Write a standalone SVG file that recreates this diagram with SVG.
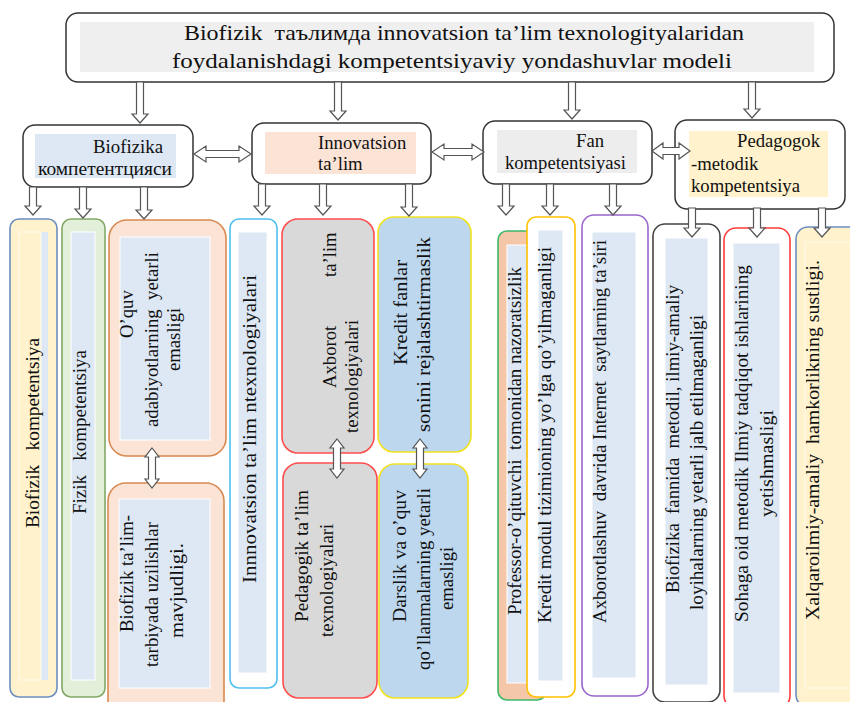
<svg xmlns="http://www.w3.org/2000/svg" width="850" height="702" viewBox="0 0 850 702">
<defs>
<style>
.t{font-family:"Liberation Serif","Times New Roman",serif;font-size:18.7px;fill:#111;white-space:pre}
.tt{font-size:21px}
.box{fill:#fff;stroke:#333;stroke-width:1.5}
.arr{fill:#fff;stroke:#555;stroke-width:1.2;stroke-linejoin:miter}
.inb{fill:#dde8f4;stroke:#fff;stroke-width:1}
.col{stroke-width:1.6}
</style>
</defs>
<rect x="0" y="0" width="850" height="702" fill="#fff"/>

<g id="title">
<rect class="box" x="66" y="13" width="768" height="69" rx="12"/>
<rect x="80" y="22" width="734" height="50" fill="#efefef"/>
<text class="t tt" xml:space="preserve" x="184" y="40" textLength="560" lengthAdjust="spacingAndGlyphs">Biofizik  таълимда innovatsion ta’lim texnologityalaridan</text>
<text class="t tt" xml:space="preserve" x="172" y="68" textLength="560" lengthAdjust="spacingAndGlyphs">foydalanishdagi kompetentsiyaviy yondashuvlar modeli</text>
</g>

<g id="biofizika-kompetentsiyasi">
<rect class="box" x="23" y="125" width="170" height="62" rx="12"/>
<rect x="35" y="134" width="141" height="44" fill="#dde8f4"/>
<text class="t" x="93" y="153" textLength="70" lengthAdjust="spacingAndGlyphs">Biofizika</text>
<text class="t" x="38" y="175" textLength="134" lengthAdjust="spacingAndGlyphs">компетентцияси</text>
</g>

<g id="innovatsion-talim">
<rect class="box" x="252" y="123" width="179" height="61" rx="12"/>
<rect x="265" y="132" width="151" height="42" fill="#fbe3d6"/>
<text class="t" x="318" y="149">Innovatsion</text>
<text class="t" x="318" y="170">ta’lim</text>
</g>

<g id="fan-kompetentsiyasi">
<rect class="box" x="483" y="121" width="169" height="63" rx="12"/>
<rect x="497" y="130" width="140" height="43" fill="#ededed"/>
<text class="t" x="576" y="147">Fan</text>
<text class="t" x="505" y="169" textLength="121" lengthAdjust="spacingAndGlyphs">kompetentsiyasi</text>
</g>

<g id="pedagogik-metodik">
<rect class="box" x="675" y="120" width="170" height="89" rx="12"/>
<rect x="689" y="131" width="139" height="66" fill="#fff2cc"/>
<text class="t" x="737" y="147">Pedagogok</text>
<text class="t" x="691" y="170">-metodik</text>
<text class="t" x="691" y="192">kompetentsiya</text>
</g>

<g id="c1">
<rect class="col" x="10" y="219" width="47" height="478" rx="9" fill="#fff2cc" stroke="#6c8ebf"/>
<rect x="19" y="232" width="29" height="448" fill="#dde8f4"/>
<rect x="19" y="232" width="22" height="448" fill="#fff2cc" stroke="#fffaf0"/>
<text class="t" xml:space="preserve" transform="translate(39,528) rotate(-90)" textLength="190" lengthAdjust="spacingAndGlyphs">Biofizik   kompetentsiya</text>
</g>

<g id="c2">
<rect class="col" x="62" y="219" width="43" height="478" rx="9" fill="#e2efd9" stroke="#82a866"/>
<rect class="inb" x="71" y="232" width="24" height="448"/>
<text class="t" xml:space="preserve" transform="translate(86,514) rotate(-90)" textLength="164" lengthAdjust="spacingAndGlyphs">Fizik   kompetentsiya</text>
</g>

<g id="c3a">
<rect class="col" x="109" y="220" width="117" height="236" rx="18" fill="#fbe3d6" stroke="#d9894f"/>
<rect class="inb" x="120" y="237" width="90" height="203"/>
<text class="t" transform="translate(133,338) rotate(-90)">O’quv</text>
<text class="t" xml:space="preserve" transform="translate(158,427) rotate(-90)" textLength="175" lengthAdjust="spacingAndGlyphs">adabiyotlarning  yetarli</text>
<text class="t" transform="translate(180,371) rotate(-90)">emasligi</text>
</g>

<g id="c3b">
<rect class="col" x="108" y="483" width="116" height="235" rx="18" fill="#fbe3d6" stroke="#d9894f"/>
<rect class="inb" x="119" y="499" width="91" height="189"/>
<text class="t" transform="translate(133,632) rotate(-90)" textLength="117" lengthAdjust="spacingAndGlyphs">Biofizik ta’lim-</text>
<text class="t" transform="translate(158,667) rotate(-90)" textLength="145" lengthAdjust="spacingAndGlyphs">tarbiyada uzilishlar</text>
<text class="t" transform="translate(183,638) rotate(-90)" textLength="95" lengthAdjust="spacingAndGlyphs">mavjudligi.</text>
</g>

<g id="c4">
<rect class="col" x="230" y="219" width="47" height="469" rx="9" fill="#fff" stroke="#4fbfef"/>
<rect class="inb" x="238" y="232" width="29" height="441"/>
<text class="t" transform="translate(256,583) rotate(-90)" textLength="308" lengthAdjust="spacingAndGlyphs">Innnovatsion ta’lim ntexnologiyalari</text>
</g>

<g id="c5a">
<rect class="col" x="282" y="219" width="92" height="234" rx="16" fill="#d9d9d9" stroke="#ff4d4d"/>
<text class="t" transform="translate(336,388) rotate(-90)"><tspan x="0">Axborot</tspan><tspan x="111">ta’lim</tspan></text>
<text class="t" transform="translate(358,433) rotate(-90)">texnologiyalari</text>
</g>

<g id="c5b">
<rect class="col" x="283" y="463" width="94" height="235" rx="16" fill="#d9d9d9" stroke="#ff4d4d"/>
<text class="t" transform="translate(308,622) rotate(-90)" textLength="132" lengthAdjust="spacingAndGlyphs">Pedagogik ta’lim</text>
<text class="t" transform="translate(333,637) rotate(-90)">texnologiyalari</text>
</g>

<g id="c6a">
<rect class="col" x="378" y="217" width="93" height="235" rx="16" fill="#bdd7ee" stroke="#f2e21e"/>
<text class="t" transform="translate(407,365) rotate(-90)" textLength="105" lengthAdjust="spacingAndGlyphs">Kredit fanlar</text>
<text class="t" transform="translate(430,432) rotate(-90)" textLength="195" lengthAdjust="spacingAndGlyphs">sonini rejalashtirmaslik</text>
</g>

<g id="c6b">
<rect class="col" x="379" y="464" width="89" height="234" rx="16" fill="#bdd7ee" stroke="#f2e21e"/>
<text class="t" transform="translate(406,622) rotate(-90)" textLength="132" lengthAdjust="spacingAndGlyphs">Darslik va o’quv</text>
<text class="t" transform="translate(430,670) rotate(-90)" textLength="182" lengthAdjust="spacingAndGlyphs">qo’llanmalarning yetarli</text>
<text class="t" transform="translate(453,610) rotate(-90)">emasligi</text>
</g>

<g id="c7">
<rect class="col" x="498" y="231" width="48" height="469" rx="9" fill="#f4c7a8" stroke="#3cb86a"/>
<rect class="inb" x="507" y="245" width="33" height="438"/>
<text class="t" xml:space="preserve" transform="translate(521,615) rotate(-90)" textLength="348" lengthAdjust="spacingAndGlyphs">Professor-o’qituvchi  tomonidan nazoratsizlik</text>
</g>

<g id="c8">
<rect class="col" x="527" y="217" width="48" height="480" rx="9" fill="#fff" stroke="#ffc000"/>
<rect class="inb" x="538" y="230" width="25" height="451"/>
<text class="t" transform="translate(551,623) rotate(-90)" textLength="376" lengthAdjust="spacingAndGlyphs">Kredit modul tizimioning yo’lga qo’yilmaganligi</text>
</g>

<g id="c9">
<rect class="col" x="582" y="215" width="66" height="481" rx="12" fill="#fff" stroke="#9966cc"/>
<rect class="inb" x="592" y="232" width="44" height="446"/>
<text class="t" xml:space="preserve" transform="translate(606,623) rotate(-90)" textLength="383" lengthAdjust="spacingAndGlyphs">Axborotlashuv  davrida Internet  saytlarning ta’siri</text>
</g>

<g id="c10">
<rect class="col" x="653" y="224" width="67" height="478" rx="12" fill="#fff" stroke="#444"/>
<rect class="inb" x="665" y="238" width="43" height="447"/>
<text class="t" xml:space="preserve" transform="translate(679,593) rotate(-90)" textLength="308" lengthAdjust="spacingAndGlyphs">Biofizika  fannida  metodil, ilmiy-amaliy</text>
<text class="t" transform="translate(703,610) rotate(-90)" textLength="295" lengthAdjust="spacingAndGlyphs">loyihalarning yetarli jalb etilmaganligi</text>
</g>

<g id="c11">
<rect class="col" x="724" y="228" width="66" height="480" rx="12" fill="#fff" stroke="#ff3b3b"/>
<rect class="inb" x="733" y="243" width="47" height="450"/>
<text class="t" transform="translate(748,622) rotate(-90)" textLength="357" lengthAdjust="spacingAndGlyphs">Sohaga oid metodik Ilmiy tadqiqot ishlarining</text>
<text class="t" transform="translate(773,517) rotate(-90)" textLength="107" lengthAdjust="spacingAndGlyphs">yetishmasligi</text>
</g>

<g id="c12">
<rect class="col" x="796" y="227" width="66" height="480" rx="12" fill="#fff2cc" stroke="#6c8ebf"/>
<rect x="805" y="242" width="50" height="446" fill="#fff2cc" stroke="#fffaf0"/>
<text class="t" xml:space="preserve" transform="translate(819,620) rotate(-90)" textLength="360" lengthAdjust="spacingAndGlyphs">Xalqaroilmiy-amaliy  hamkorlikning sustligi.</text>
</g>

<g id="connectors">
<path class="arr" d="M136.5,82 H143.5 V114 H148 L140,123 L132,114 H136.5 Z"/>
<path class="arr" d="M334.5,82 H341.5 V111 H346 L338,120 L330,111 H334.5 Z"/>
<path class="arr" d="M568.5,82 H575.5 V110 H580 L572,119 L564,110 H568.5 Z"/>
<path class="arr" d="M748.5,82 H755.5 V109 H760 L752,118 L744,109 H748.5 Z"/>

<path class="arr" d="M29.5,187 H36.5 V206 H41 L33,215 L25,206 H29.5 Z"/>
<path class="arr" d="M79.5,187 H86.5 V209 H91 L83,218 L75,209 H79.5 Z"/>
<path class="arr" d="M140.5,187 H147.5 V210 H152 L144,219 L136,210 H140.5 Z"/>
<path class="arr" d="M258.5,184 H265.5 V206 H270 L262,215 L254,206 H258.5 Z"/>
<path class="arr" d="M319.5,184 H326.5 V206 H331 L323,215 L315,206 H319.5 Z"/>
<path class="arr" d="M405.5,184 H412.5 V207 H417 L409,216 L401,207 H405.5 Z"/>
<path class="arr" d="M502.5,184 H509.5 V206 H514 L506,215 L498,206 H502.5 Z"/>
<path class="arr" d="M546.5,184 H553.5 V206 H558 L550,215 L542,206 H546.5 Z"/>
<path class="arr" d="M609.5,184 H616.5 V206 H621 L613,215 L605,206 H609.5 Z"/>
<path class="arr" d="M688.5,208 H695.5 V228 H700 L692,237 L684,228 H688.5 Z"/>
<path class="arr" d="M753.5,208 H760.5 V228 H765 L757,237 L749,228 H753.5 Z"/>
<path class="arr" d="M818.5,208 H825.5 V228 H830 L822,237 L814,228 H818.5 Z"/>

<path class="arr" d="M194,154 L206,146 V150.5 H239 V146 L251,154 L239,162 V157.5 H206 V162 Z"/>
<path class="arr" d="M432,152 L444,144 V148.5 H472 V144 L484,152 L472,160 V155.5 H444 V160 Z"/>
<path class="arr" d="M652,151 L663,143 V147.5 H679 V143 L690,151 L679,159 V154.5 H663 V159 Z"/>

<path class="arr" d="M152,448 L159,457 H155.5 V479 H159 L152,488 L145,479 H148.5 V457 H145 Z"/>
<path class="arr" d="M337,439 L344,448 H340.5 V469 H344 L337,478 L330,469 H333.5 V448 H330 Z"/>
<path class="arr" d="M420,439 L427,448 H423.5 V469 H427 L420,478 L413,469 H416.5 V448 H413 Z"/>
</g>
</svg>
